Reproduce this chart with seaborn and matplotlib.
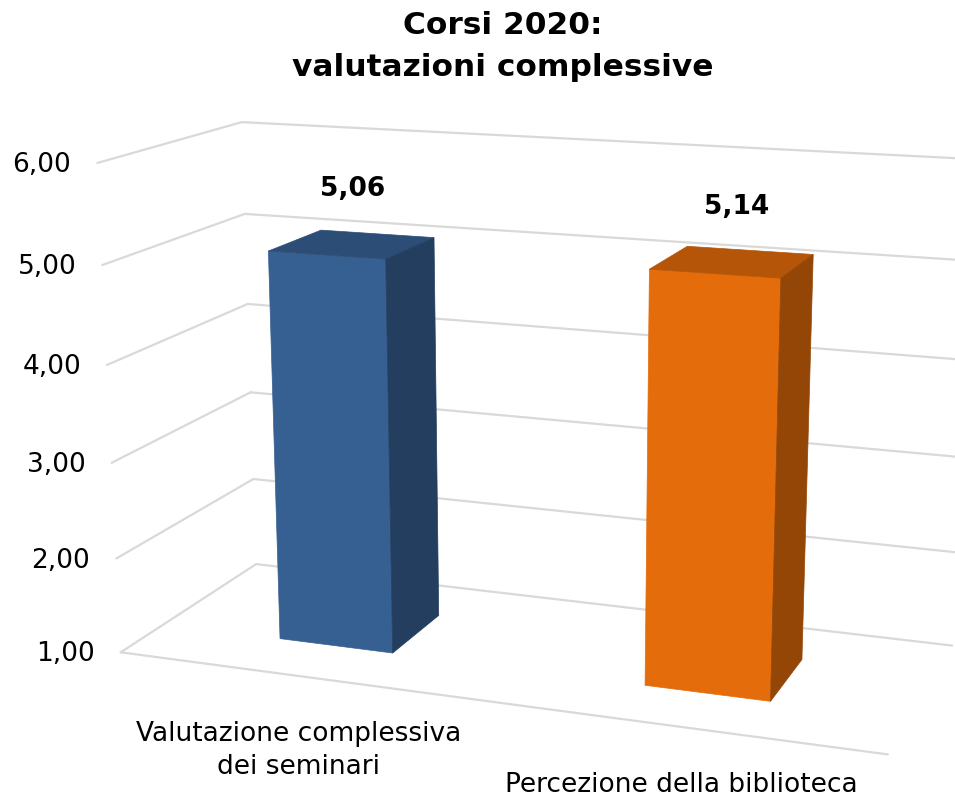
import numpy as np
import pandas as pd
import matplotlib
matplotlib.use("Agg")
import matplotlib.pyplot as plt
import matplotlib.transforms as mtransforms
from matplotlib.patches import Polygon
import seaborn as sns

# Dati del grafico
categorie = ["Valutazione complessiva\ndei seminari", "Percezione della biblioteca"]
valori = [5.06, 5.14]
etichette_valori = ["5,06", "5,14"]
tick_valori = [1, 2, 3, 4, 5, 6]
tick_etichette = ["1,00", "2,00", "3,00", "4,00", "5,00", "6,00"]
titolo = "Corsi 2020:\nvalutazioni complessive"

# Colori (fronte / sopra / lato delle colonne)
col_fronte = ["#376092", "#E46C0A"]
col_sopra = ["#2C4D75", "#B45508"]
col_lato = ["#233E5F", "#944606"]
col_griglia = "#D9D9D9"

# Geometria 3D: pavimento x -0.5..1.5, profondita 0..1, colonne 0.3..0.7
X_SX, X_DX = -0.5, 1.5
Z_FRONTE, Z_RETRO = 0.3, 0.7
LARGHEZZA = 0.32

# Matrice di proiezione prospettica (x, valore, profondita) -> pixel
CAMERA = np.array([
    [3.42161610e+02, -5.77658123e+00, 1.66785786e+02, 2.99559951e+02],
    [1.13936227e+01, -1.01174925e+02, -2.55186767e+01, 7.69862370e+02],
    [-5.36785821e-02, -1.04757274e-02, 1.13724820e-01, 1.00000000e+00],
])


class Proiezione(mtransforms.Transform):
    """Proietta un piano 3D (xy, zy o xz a coordinata fissa) in pixel."""
    input_dims = output_dims = 2

    def __init__(self, piano, costante):
        super().__init__()
        self.piano, self.costante = piano, costante

    def transform_non_affine(self, values):
        a, b = np.asarray(values, float).reshape(-1, 2).T
        c = np.full_like(a, self.costante)
        X, Y, Z = {"xy": (a, b, c), "zy": (c, b, a), "xz": (a, c, b)}[self.piano]
        h = CAMERA @ np.vstack([X, Y, Z, np.ones_like(X)])
        return np.column_stack([h[0] / h[2], h[1] / h[2]])


sns.set_theme(style="white")
plt.rcParams["font.family"] = ["DejaVu Sans"]
plt.rcParams["text.color"] = "black"

fig = plt.figure(figsize=(9.55, 7.99), dpi=100)
ax = fig.add_axes([0, 0, 1, 1])

df = pd.DataFrame({"categoria": categorie, "valore": valori})
sns.barplot(data=df, x="categoria", y="valore", hue="categoria", palette=col_fronte,
            width=LARGHEZZA, saturation=1, errorbar=None, legend=False, ax=ax)

# Griglia: parete laterale, parete di fondo e bordo del pavimento
for v in tick_valori:
    ax.plot([0, 1], [v, v], color=col_griglia, lw=1.6, zorder=1,
            transform=Proiezione("zy", X_SX) + ax.transData)
    ax.plot([X_SX, X_DX], [v, v], color=col_griglia, lw=1.6, zorder=1,
            transform=Proiezione("xy", 1.0) + ax.transData)
ax.plot([X_SX, X_DX], [tick_valori[0]] * 2, color=col_griglia, lw=1.6, zorder=1,
        transform=Proiezione("xy", 0.0) + ax.transData)

# Colonne 3D: la faccia frontale e' la barra di seaborn
base = tick_valori[0]
for p in ax.patches:
    x0, w, h = p.get_x(), p.get_width(), p.get_height()
    i = int(round(x0 + w / 2))
    p.set_y(base)
    p.set_height(h - base)
    p.set_transform(Proiezione("xy", Z_FRONTE) + ax.transData)
    p.set_edgecolor(col_fronte[i])
    p.set_linewidth(0.5)
    p.set_zorder(3)
    ax.add_patch(Polygon([(x0, Z_FRONTE), (x0 + w, Z_FRONTE), (x0 + w, Z_RETRO), (x0, Z_RETRO)],
                         closed=True, facecolor=col_sopra[i], edgecolor=col_sopra[i], lw=0.5,
                         zorder=3, transform=Proiezione("xz", h) + ax.transData))
    ax.add_patch(Polygon([(Z_FRONTE, base), (Z_RETRO, base), (Z_RETRO, h), (Z_FRONTE, h)],
                         closed=True, facecolor=col_lato[i], edgecolor=col_lato[i], lw=0.5,
                         zorder=3, transform=Proiezione("zy", x0 + w) + ax.transData))

# Etichette asse valori
for v, t in zip(tick_valori, tick_etichette):
    px, py = Proiezione("zy", X_SX).transform([[0, v]])[0]
    ax.text(px - 26, py + 2, t, ha="right", va="center", fontsize=19)

# Etichette dei valori sopra le colonne
for i, (v, t) in enumerate(zip(valori, etichette_valori)):
    px, py = Proiezione("xz", v).transform([[i, 0.5]])[0]
    ax.text(px + 4 * i, py - 55, t, ha="center", va="center", fontsize=19, fontweight="bold")

# Etichette delle categorie
for i, c in enumerate(categorie):
    px, py = Proiezione("xy", 0.0).transform([[i, base]])[0]
    ax.text(px + 2, py + 45, c, ha="center", va="top", fontsize=19, linespacing=1.35)

ax.text(503, 11, titolo, ha="center", va="top", fontsize=22.5, fontweight="bold",
        linespacing=1.55)

ax.set_xlim(0, 955)
ax.set_ylim(799, 0)
ax.set_axis_off()

plt.savefig("out.png", dpi=100)
